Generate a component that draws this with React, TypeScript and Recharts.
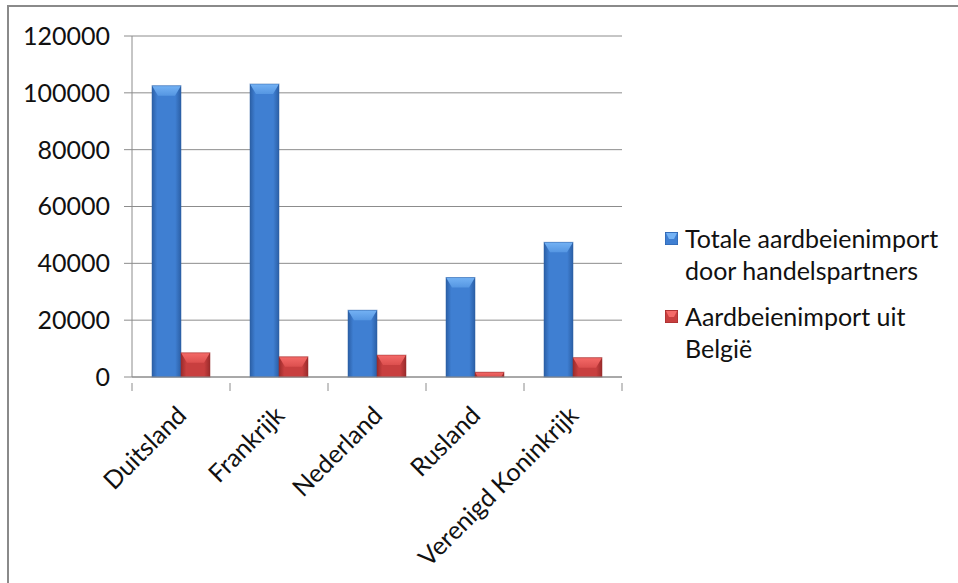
import React from 'react';
import { BarChart, Bar, XAxis, YAxis, CartesianGrid, Legend } from 'recharts';

// Aardbeienimport per handelspartner (ton)
const landen = ['Duitsland', 'Frankrijk', 'Nederland', 'Rusland', 'Verenigd Koninkrijk'];
const totaleImport = [102500, 103100, 23500, 35000, 47400];
const importUitBelgie = [8500, 7100, 7700, 1700, 6800];
const yTicks = [0, 20000, 40000, 60000, 80000, 100000, 120000];

const seriesNames = ['Totale aardbeienimport door handelspartners', 'Aardbeienimport uit België'];
const legendLines = [
  ['Totale aardbeienimport', 'door handelspartners'],
  ['Aardbeienimport uit', 'België'],
];

const data = landen.map((land, i) => ({
  land,
  totaal: totaleImport[i],
  belgie: importUitBelgie[i],
}));

const FONT = 'Lato, "Open Sans", sans-serif';
const FONT_SIZE = 25;
const AXIS_GRAY = '#8c8c8c';

const palette = {
  blue: { edge: '#2b5fa6', mid: '#3f7fd2', top: '#74b2f4', topLow: '#5596e2' },
  red: { edge: '#9a2b2b', mid: '#c83f3f', top: '#f46a68', topLow: '#dc4f4e' },
};

// bar with dark sides and a light chevron bevel on top
const bevelBar = (key: 'blue' | 'red') => (props: any) => {
  const { x, y, width, height } = props;
  if (!height || height <= 0) return <g />;
  const depth = Math.min(10, height);
  const inset = Math.min(6, width / 3) * (depth / 10);
  return (
    <g>
      <rect x={x} y={y} width={width} height={height} fill={`url(#body-${key})`} />
      <polygon
        points={`${x},${y} ${x + width},${y} ${x + width - inset},${y + depth} ${x + inset},${y + depth}`}
        fill={`url(#top-${key})`}
      />
      <rect x={x} y={y} width={width} height={height} fill="none" stroke={palette[key].edge} strokeOpacity={0.5} strokeWidth={1} />
    </g>
  );
};

const CountryTick = (props: any) => {
  const { x, y, payload, index } = props;
  const half = payload?.offset ?? 0;
  const axisY = y - 14;
  const tx = x + 7;
  const ty = axisY + 34;
  return (
    <g>
      <line x1={x - half} y1={axisY} x2={x - half} y2={axisY + 8} stroke={AXIS_GRAY} />
      {index === landen.length - 1 && (
        <line x1={x + half} y1={axisY} x2={x + half} y2={axisY + 8} stroke={AXIS_GRAY} />
      )}
      <text
        x={tx}
        y={ty}
        textAnchor="end"
        transform={`rotate(-45, ${tx}, ${ty})`}
        fontFamily={FONT}
        fontSize={FONT_SIZE}
        fill="#111"
      >
        {payload.value}
      </text>
    </g>
  );
};

const LegendBox = () => (
  <div style={{ fontFamily: FONT, fontSize: FONT_SIZE, color: '#111', lineHeight: '32px' }}>
    {legendLines.map((lines, i) => {
      const key = i === 0 ? 'blue' : 'red';
      return (
        <div key={seriesNames[i]} style={{ display: 'flex', alignItems: 'flex-start', marginBottom: i === 0 ? 14 : 0 }}>
          <svg width={13} height={13} style={{ marginTop: 10, marginRight: 7, flexShrink: 0 }}>
            <rect x={0} y={0} width={13} height={13} fill={palette[key].mid} stroke={palette[key].edge} />
            <polygon points="1,1 12,1 9,7 4,7" fill={palette[key].top} />
          </svg>
          <div>
            {lines.map((l) => (
              <div key={l}>{l}</div>
            ))}
          </div>
        </div>
      );
    })}
  </div>
);

export default function App() {
  return (
    <div
      style={{
        position: 'fixed',
        left: 0,
        top: 0,
        width: 958,
        height: 583,
        background: '#fff',
        overflow: 'hidden',
      }}
    >
      <div
        style={{
          position: 'absolute',
          left: 7,
          top: 5,
          width: 1000,
          height: 1000,
          borderLeft: '2px solid #8a8a8a',
          borderTop: '2px solid #8a8a8a',
        }}
      />
      <div style={{ position: 'absolute', left: 0, top: 0 }}>
        <BarChart
          width={958}
          height={583}
          data={data}
          margin={{ top: 36, right: 336, bottom: 0, left: 0 }}
          barCategoryGap={20}
          barGap={0}
        >
          <defs>
            {(['blue', 'red'] as const).map((k) => (
              <React.Fragment key={k}>
                <linearGradient id={`body-${k}`} x1="0" y1="0" x2="1" y2="0">
                  <stop offset="0%" stopColor={palette[k].edge} />
                  <stop offset="18%" stopColor={palette[k].mid} />
                  <stop offset="80%" stopColor={palette[k].mid} />
                  <stop offset="100%" stopColor={palette[k].edge} />
                </linearGradient>
                <linearGradient id={`top-${k}`} x1="0" y1="0" x2="0" y2="1">
                  <stop offset="0%" stopColor={palette[k].top} />
                  <stop offset="100%" stopColor={palette[k].topLow} />
                </linearGradient>
              </React.Fragment>
            ))}
          </defs>
          <CartesianGrid vertical={false} stroke={AXIS_GRAY} strokeWidth={1} />
          <XAxis
            dataKey="land"
            interval={0}
            axisLine={{ stroke: AXIS_GRAY }}
            tickLine={false}
            tickMargin={14}
            tick={<CountryTick />}
            height={206}
          />
          <YAxis
            domain={[0, 120000]}
            ticks={yTicks}
            interval={0}
            width={132}
            axisLine={{ stroke: AXIS_GRAY }}
            tickLine={{ stroke: AXIS_GRAY }}
            tickSize={8}
            tickMargin={14}
            tick={{ fontFamily: FONT, fontSize: FONT_SIZE, fill: '#111' }}
          />
          <Legend
            layout="vertical"
            align="center"
            verticalAlign="middle"
            wrapperStyle={{ position: 'absolute', left: 665, top: 222, width: 293 }}
            content={<LegendBox />}
          />
          <Bar dataKey="totaal" name={seriesNames[0]} shape={bevelBar('blue')} isAnimationActive={false} />
          <Bar dataKey="belgie" name={seriesNames[1]} shape={bevelBar('red')} isAnimationActive={false} />
        </BarChart>
      </div>
    </div>
  );
}
